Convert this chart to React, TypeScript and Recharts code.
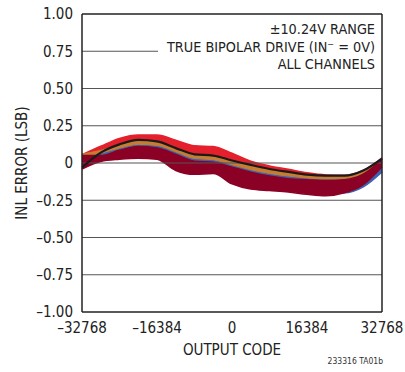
import {
  ComposedChart,
  Area,
  Line,
  XAxis,
  YAxis,
  ReferenceLine,
} from 'recharts';

// output codes where the INL envelopes were sampled
const codes = [
  -32768, -28672, -24576, -20480, -16384, -12288, -8192, -4096, 0, 4096, 8192,
  12288, 16384, 20480, 24576, 28672, 32768,
];

// upper edge of the red channel band
const redHigh = [
  0.055, 0.112, 0.165, 0.188, 0.188, 0.153, 0.115, 0.11, 0.065, 0.012, -0.02,
  -0.042, -0.066, -0.08, -0.082, -0.05, 0.035,
];
// black channel trace
const blackTrace = [
  -0.03, 0.07, 0.125, 0.155, 0.145, 0.1, 0.058, 0.05, 0.017, -0.013, -0.04,
  -0.06, -0.078, -0.085, -0.085, -0.05, 0.03,
];
// orange channel band
const orangeHigh = [
  0.06, 0.085, 0.12, 0.15, 0.14, 0.095, 0.052, 0.045, 0.01, -0.02, -0.046,
  -0.066, -0.084, -0.092, -0.09, -0.055, 0.025,
];
const orangeLow = [
  0.035, 0.065, 0.1, 0.125, 0.118, 0.075, 0.03, 0.022, -0.012, -0.045, -0.07,
  -0.088, -0.1, -0.108, -0.105, -0.07, 0.01,
];
// lower edge of the blue channel band
const blueLow = [
  -0.01, 0.03, 0.06, 0.08, 0.08, 0.03, -0.01, -0.02, -0.06, -0.1, -0.12, -0.14,
  -0.16, -0.2, -0.2, -0.16, -0.06,
];
// dark red channel band
const darkHigh = [
  0.05, 0.05, 0.085, 0.11, 0.1, 0.058, 0.012, 0.005, -0.028, -0.062, -0.088,
  -0.105, -0.112, -0.118, -0.112, -0.075, 0.025,
];
const darkLow = [
  -0.04, 0.01, 0.025, 0.032, 0.025, -0.05, -0.076, -0.07, -0.14, -0.175,
  -0.185, -0.195, -0.21, -0.22, -0.2, -0.145, -0.025,
];

const xTicks = [-32768, -16384, 0, 16384, 32768];
const yTicks = [-1, -0.75, -0.5, -0.25, 0, 0.25, 0.5, 0.75, 1];
const gridLevels = [0.5, 0.25, 0, -0.25, -0.5, -0.75];
const notes = ['\u00B110.24V RANGE', 'TRUE BIPOLAR DRIVE (IN\u207B = 0V)', 'ALL CHANNELS'];

const data = codes.map((code, i) => ({
  code,
  red: [orangeLow[i], redHigh[i]],
  blue: [blueLow[i], orangeLow[i]],
  orange: [orangeLow[i], orangeHigh[i]],
  dark: [darkLow[i], darkHigh[i]],
  black: blackTrace[i],
}));

const font = '"Liberation Sans Narrow", "DejaVu Sans Condensed", Arial, sans-serif';
const frame = '#222';
const grid = '#555';

const fmtY = (v: number) =>
  v === 0 ? '0' : (v < 0 ? '\u2013' : '') + Math.abs(v).toFixed(2);
const fmtX = (v: number) => (v < 0 ? '\u2013' + Math.abs(v) : String(v));

export default function App() {
  return (
    <div
      style={{
        position: 'absolute',
        left: 0,
        top: 0,
        width: 405,
        height: 372,
        background: '#fff',
        fontFamily: font,
      }}
    >
      <ComposedChart
        width={405}
        height={372}
        data={data}
        margin={{ top: 14, right: 23, bottom: 10, left: 10 }}
      >
        <XAxis
          dataKey="code"
          type="number"
          domain={[-32768, 32768]}
          ticks={xTicks}
          tickFormatter={fmtX}
          axisLine={false}
          tickLine={false}
          tickSize={10}
          tickMargin={0}
          height={50}
          tick={{ fontSize: 15, fill: '#222', fontFamily: font }}
          label={{
            value: 'OUTPUT CODE',
            position: 'insideBottom',
            offset: 7,
            style: { fontSize: 15, fill: '#222', fontFamily: font },
          }}
        />
        <YAxis
          type="number"
          domain={[-1, 1]}
          ticks={yTicks}
          tickFormatter={fmtY}
          axisLine={false}
          tickLine={false}
          tickSize={7}
          tickMargin={2}
          width={72}
          tick={{ fontSize: 15, fill: '#222', fontFamily: font }}
          label={{
            value: 'INL ERROR (LSB)',
            angle: -90,
            position: 'insideLeft',
            offset: 12,
            style: { fontSize: 15, fill: '#222', fontFamily: font, textAnchor: 'middle' },
          }}
        />

        {gridLevels.map((y) => (
          <ReferenceLine key={y} y={y} stroke={grid} strokeWidth={1.2} />
        ))}
        <ReferenceLine
          segment={[
            { x: -32768, y: 0.75 },
            { x: -16165, y: 0.75 },
          ]}
          stroke={grid}
          strokeWidth={1.2}
        />

        <Area
          dataKey="red"
          type="monotone"
          stroke="#e4202c"
          strokeWidth={1.5}
          fill="#e4202c"
          fillOpacity={1}
          isAnimationActive={false}
        />
        <Area
          dataKey="blue"
          type="monotone"
          stroke="#3c62b2"
          strokeWidth={1.5}
          fill="#3c62b2"
          fillOpacity={1}
          isAnimationActive={false}
        />
        <Area
          dataKey="orange"
          type="monotone"
          stroke="#c47d32"
          strokeWidth={1}
          fill="#c47d32"
          fillOpacity={1}
          isAnimationActive={false}
        />
        <Area
          dataKey="dark"
          type="monotone"
          stroke="#8b0025"
          strokeWidth={1.5}
          fill="#8b0025"
          fillOpacity={1}
          isAnimationActive={false}
        />
        <Line
          dataKey="black"
          type="monotone"
          stroke="#1a1a1a"
          strokeWidth={2.2}
          dot={false}
          isAnimationActive={false}
        />

        <ReferenceLine x={-32768} stroke={frame} strokeWidth={1.5} />
        <ReferenceLine x={32768} stroke={frame} strokeWidth={1.5} />
        <ReferenceLine y={1} stroke={frame} strokeWidth={1.5} />
        <ReferenceLine y={-1} stroke={frame} strokeWidth={1.5} />
      </ComposedChart>

      <div
        style={{
          position: 'absolute',
          right: 30,
          top: 21,
          textAlign: 'right',
          fontSize: 14.3,
          lineHeight: '17.5px',
          color: '#222',
          background: '#fff',
        }}
      >
        {notes.map((n) => (
          <div key={n}>{n}</div>
        ))}
      </div>
      <div
        style={{
          position: 'absolute',
          right: 22,
          top: 356,
          fontSize: 8.5,
          color: '#333',
        }}
      >
        233316 TA01b
      </div>
    </div>
  );
}
